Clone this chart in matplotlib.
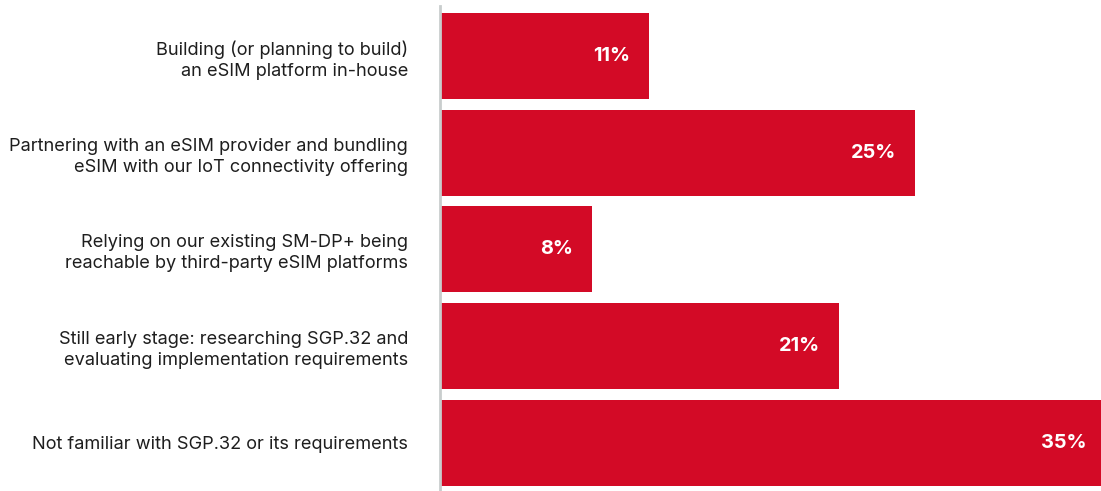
import matplotlib.pyplot as plt

plt.rcParams['font.family'] = ['Inter', 'DejaVu Sans']

categories = [
    "Building (or planning to build)\nan eSIM platform in-house",
    "Partnering with an eSIM provider and bundling\neSIM with our IoT connectivity offering",
    "Relying on our existing SM-DP+ being\nreachable by third-party eSIM platforms",
    "Still early stage: researching SGP.32 and\nevaluating implementation requirements",
    "Not familiar with SGP.32 or its requirements",
]
shares = [11, 25, 8, 21, 35]

bar_color = "#D30A26"
text_color = "#1e1e1e"

fig = plt.figure(figsize=(11.01, 4.91), dpi=100)
ax = fig.add_axes([440 / 1101, 1 - 490 / 491, 661 / 1101, 484 / 491])

pos = list(range(len(categories)))
ax.barh(pos, shares, height=0.89, color=bar_color, zorder=2)

ax.set_xlim(0, 661 / 19)
ax.set_ylim(4.49, -0.52)

# value labels sit inside the bar end; the longest bar runs off the edge
for y, v in zip(pos, shares):
    ax.annotate(f"{v}%", xy=(v, y), xytext=(-13.5, 0), textcoords="offset points",
                ha="right", va="center", color="white", fontsize=14.3,
                fontweight="bold", zorder=3, annotation_clip=False)

ax.set_yticks(pos)
ax.set_yticklabels(categories, fontsize=13.1, color=text_color, linespacing=1.3)
ax.tick_params(axis="y", length=0, pad=23)
ax.set_xticks([])

for side in ["top", "right", "bottom"]:
    ax.spines[side].set_visible(False)
ax.spines["left"].set_color("#c9cdcd")
ax.spines["left"].set_linewidth(2)

fig.savefig("out.png", dpi=100)
